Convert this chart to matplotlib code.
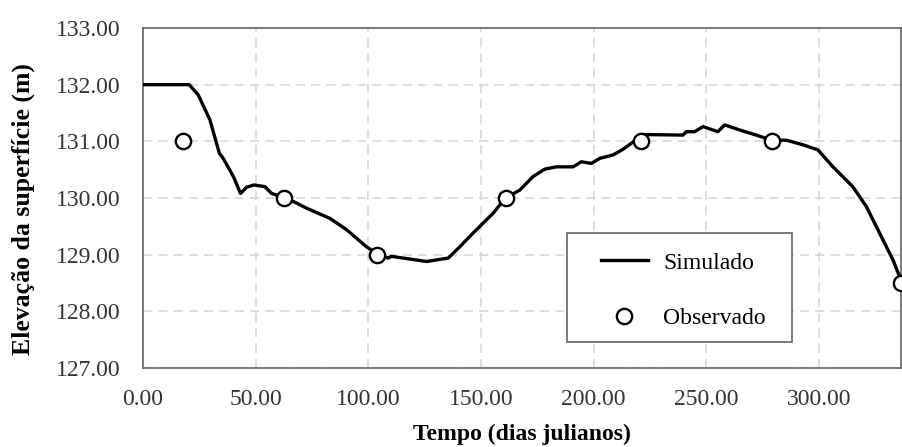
import matplotlib.pyplot as plt
from matplotlib.patches import Rectangle
from matplotlib.ticker import FormatStrFormatter

# Simulated water surface elevation
dias_sim = [0, 20.5, 24.5, 29.7, 33.9, 35.6, 40.1, 43.3, 46.0, 49.2, 54.1, 57.1,
            62.6, 68.2, 72.6, 83.0, 90.4, 99.2, 103.7, 108.8, 110.3, 115.5,
            125.9, 135.5, 139.9, 146.5, 155.4, 160.9, 167.3, 173.2, 178.4,
            183.5, 190.9, 194.6, 199.0, 202.8, 208.7, 213.1, 217.6, 222.0,
            239.7, 241.2, 244.9, 248.6, 255.2, 258.2, 264.9, 272.3, 278.9,
            285.6, 292.9, 299.6, 306.3, 315.1, 321.1, 327.0, 332.9, 337.0]
elev_sim = [132.00, 132.00, 131.82, 131.38, 130.79, 130.70, 130.38, 130.08,
            130.19, 130.23, 130.20, 130.08, 130.01, 129.91, 129.82, 129.64,
            129.44, 129.14, 129.02, 128.94, 128.97, 128.94, 128.88, 128.94,
            129.11, 129.38, 129.73, 130.00, 130.14, 130.38, 130.51, 130.55,
            130.55, 130.64, 130.61, 130.70, 130.76, 130.86, 130.99, 131.12,
            131.11, 131.17, 131.17, 131.26, 131.17, 131.29, 131.20, 131.11,
            131.02, 131.02, 130.94, 130.85, 130.55, 130.20, 129.85, 129.38,
            128.91, 128.50]

# Observed points
dias_obs = [17.6, 62.7, 103.7, 161.3, 221.0, 279.2, 336.5]
elev_obs = [131.0, 130.0, 129.0, 130.0, 131.0, 131.0, 128.5]

plt.rcParams['font.family'] = ['Liberation Serif', 'DejaVu Serif']

fig = plt.figure(figsize=(9.02, 4.47), dpi=100)
ax = fig.add_axes([143 / 902, 1 - 368 / 447, 758 / 902, 340 / 447])

ax.plot(dias_sim, elev_sim, color='black', linewidth=2.4, label='Simulado', zorder=3)
ax.plot(dias_obs, elev_obs, linestyle='none', marker='o', markersize=11,
        markerfacecolor='white', markeredgecolor='black', markeredgewidth=1.7,
        label='Observado', zorder=4, clip_on=False)

ax.set_xlim(0, 336.5)
ax.set_ylim(127, 133)
ax.set_xticks([0, 50, 100, 150, 200, 250, 300])
ax.set_yticks([127, 128, 129, 130, 131, 132, 133])
ax.xaxis.set_major_formatter(FormatStrFormatter('%.2f'))
ax.yaxis.set_major_formatter(FormatStrFormatter('%.2f'))
ax.tick_params(length=0, labelsize=17, labelcolor='#333333')
ax.tick_params(axis='y', pad=16)
ax.tick_params(axis='x', pad=15)

ax.grid(True, color='#d4d4d4', linestyle=(0, (6, 4)), linewidth=1.1)
ax.set_axisbelow(True)
for s in ax.spines.values():
    s.set_color('#707070')
    s.set_linewidth(1.3)

ax.set_xlabel('Tempo (dias julianos)', fontsize=17, fontweight='bold', labelpad=10)
ax.set_ylabel('Elevação da superfície (m)', fontsize=18.5, fontweight='bold')
ax.yaxis.set_label_coords(-0.142, 0.468)

# legend box (frame drawn separately so inner padding can differ per direction)
moldura = Rectangle((0.5594, 0.0765), 0.2968, 0.3206, transform=ax.transAxes,
                    facecolor='white', edgecolor='#707070', linewidth=1.3, zorder=5)
ax.add_patch(moldura)
leg = ax.legend(loc='center', bbox_to_anchor=(0.713, 0.228), fontsize=17,
                frameon=False, handlelength=2.0, labelspacing=1.42,
                handletextpad=0.65, borderpad=0)
leg.set_zorder(6)

fig.savefig('out.png', dpi=100)
